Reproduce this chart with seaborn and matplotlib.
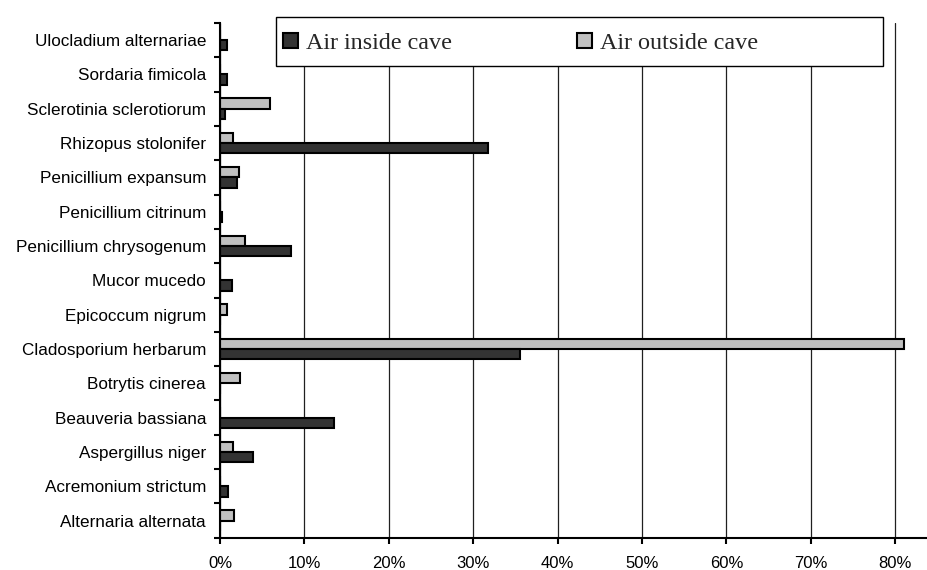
import matplotlib
matplotlib.use("Agg")
import matplotlib.pyplot as plt
import seaborn as sns
import pandas as pd
from matplotlib.patches import Rectangle, Patch
from matplotlib.ticker import FuncFormatter, FixedLocator

categories = [
    "Ulocladium alternariae", "Sordaria fimicola", "Sclerotinia sclerotiorum",
    "Rhizopus stolonifer", "Penicillium expansum", "Penicillium citrinum",
    "Penicillium chrysogenum", "Mucor mucedo", "Epicoccum nigrum",
    "Cladosporium herbarum", "Botrytis cinerea", "Beauveria bassiana",
    "Aspergillus niger", "Acremonium strictum", "Alternaria alternata",
]
inside_cave = [0.8, 0.8, 0.6, 31.7, 2.0, 0.2, 8.4, 1.4, 0.0, 35.6, 0.0, 13.5, 3.9, 1.0, 0.0]
outside_cave = [0.0, 0.0, 5.9, 1.5, 2.2, 0.0, 3.0, 0.0, 0.8, 81.0, 2.4, 0.0, 1.5, 0.0, 1.6]
series_names = ["Air inside cave", "Air outside cave"]
x_ticks = [0, 10, 20, 30, 40, 50, 60, 70, 80]

df = pd.DataFrame({
    "species": categories * 2,
    "value": inside_cave + outside_cave,
    "series": [series_names[0]] * len(categories) + [series_names[1]] * len(categories),
})

sns.set_style("white")
plt.rcParams["font.family"] = ["Liberation Sans", "DejaVu Sans"]

colors = {series_names[0]: "#333333", series_names[1]: "#c0c0c0"}

fig = plt.figure(figsize=(9.28, 5.70), dpi=100)
ax = fig.add_axes([220 / 928, 1 - 537.7 / 570, 1 - 220 / 928, (537.7 - 23) / 570])

sns.barplot(
    data=df, y="species", x="value", hue="series", order=categories,
    hue_order=[series_names[1], series_names[0]], palette=colors,
    orient="h", width=0.6, gap=0, edgecolor="black", linewidth=1.5,
    legend=False, ax=ax,
)

ax.set_xlim(0, 83.9)
ax.set_ylim(len(categories) - 0.5, -0.5)
ax.xaxis.set_major_locator(FixedLocator(x_ticks))
ax.xaxis.set_major_formatter(FuncFormatter(lambda v, p: f"{v:.0f}%"))
ax.grid(axis="x", color="#202020", linewidth=0.9)
ax.grid(axis="y", visible=False)
ax.set_axisbelow(True)

ax.yaxis.set_minor_locator(FixedLocator([i - 0.5 for i in range(len(categories) + 1)]))
ax.tick_params(axis="y", which="major", length=0, pad=10, labelsize=12.3, labelcolor="black")
ax.tick_params(axis="y", which="minor", length=4, width=1.5, color="black", direction="out", left=True)
ax.tick_params(axis="x", which="major", length=4, width=1.5, color="black", direction="out",
               bottom=True, pad=9, labelsize=12, labelcolor="black")

for s in ["top", "right"]:
    ax.spines[s].set_visible(False)
for s in ["left", "bottom"]:
    ax.spines[s].set_color("black")
    ax.spines[s].set_linewidth(1.5)
ax.set_xlabel("")
ax.set_ylabel("")

# legend frame
fig.patches.append(Rectangle((276 / 928, 1 - 65.7 / 570), (883 - 276) / 928, (65.7 - 16.7) / 570,
                             transform=fig.transFigure, facecolor="white", edgecolor="black",
                             linewidth=1.0, zorder=5))
handles = [Patch(facecolor=colors[n], edgecolor="black", linewidth=1.5) for n in series_names]
leg = fig.legend(handles, series_names, ncol=2, loc="center left",
                 bbox_to_anchor=(279 / 928, 1 - 43.3 / 570), frameon=False,
                 prop={"family": ["Liberation Serif", "DejaVu Serif"], "size": 17.4},
                 handlelength=0.62, handleheight=0.62, handletextpad=0.33,
                 columnspacing=5.2, borderpad=0.15, borderaxespad=0)
leg.set_zorder(6)

fig.savefig("out.png", dpi=100)
